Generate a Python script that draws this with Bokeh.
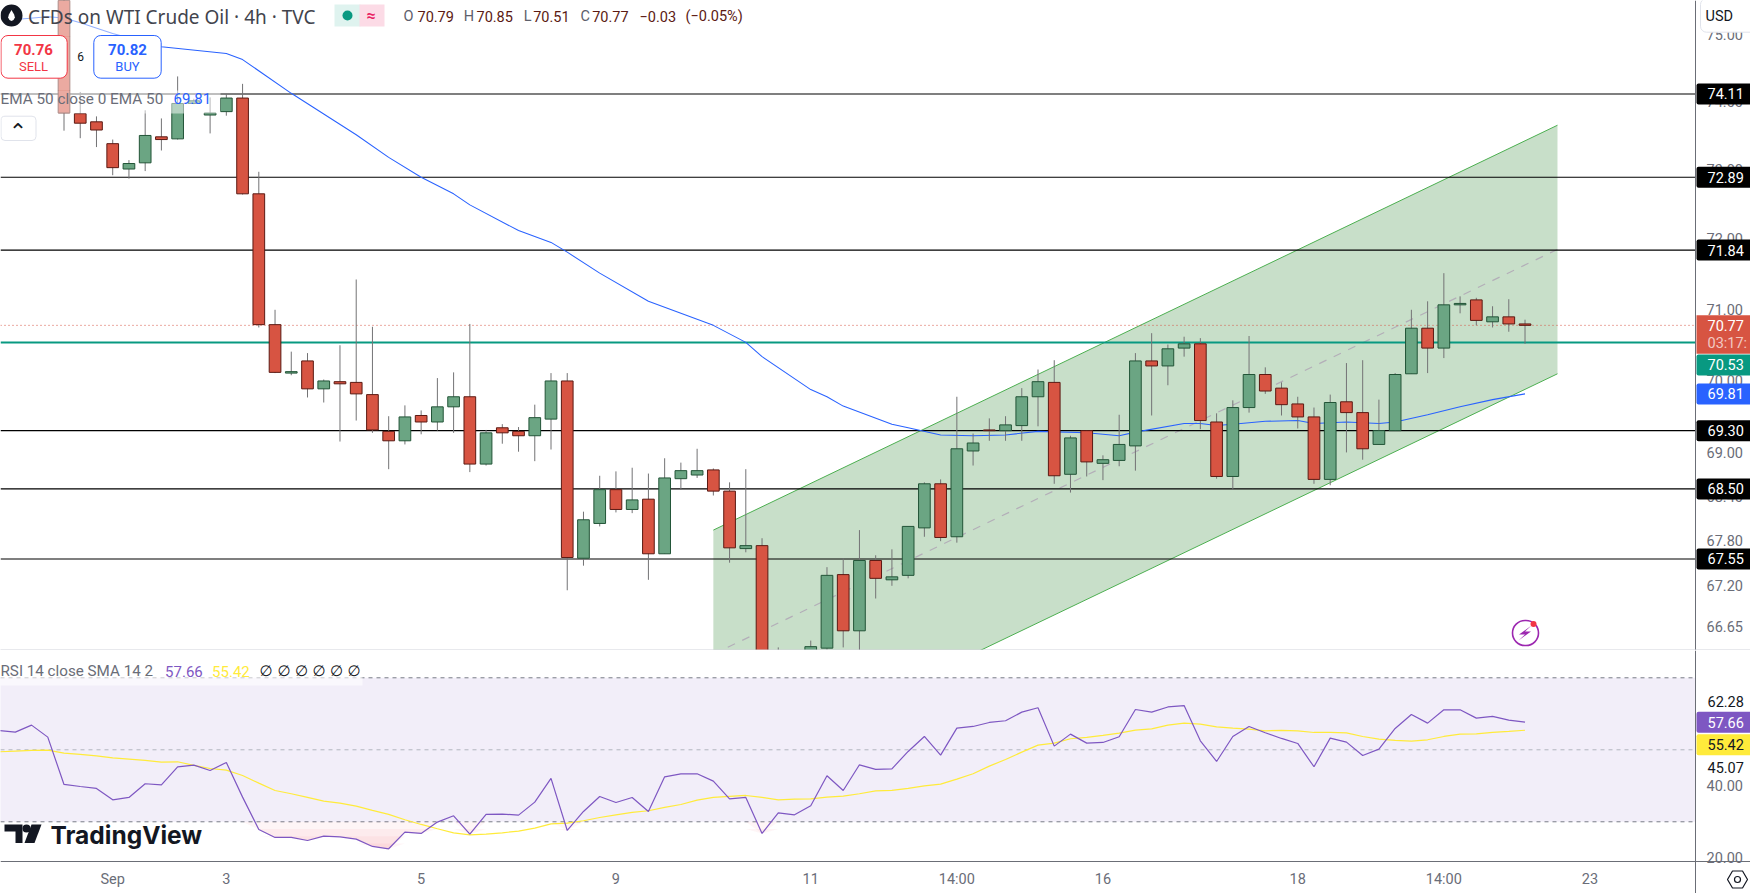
import numpy as np
from bokeh.embed import file_html
from bokeh.layouts import column
from bokeh.models import (BoxAnnotation, ColumnDataSource, FixedTicker, Label,
                          NumeralTickFormatter, PolyAnnotation, Range1d, Span)
from bokeh.plotting import figure
from bokeh.resources import INLINE

# 4h candles
opens = [76.10,73.82,73.70,73.38,73.01,73.10,73.48,73.45,73.97,73.80,
         73.85,74.05,72.65,70.78,70.10,70.27,69.88,69.98,69.97,69.80,
         69.29,69.16,69.51,69.42,69.63,69.77,68.84,69.34,69.29,69.23,
         69.46,69.99,67.56,68.03,68.49,68.22,68.36,67.62,68.64,68.69,
         68.76,68.47,67.69,67.73,65.30,65.60,65.90,66.36,67.34,66.59,
         67.53,67.27,67.33,67.97,68.57,67.85,69.02,69.31,69.30,69.37,
         69.77,69.97,68.70,69.30,68.85,68.89,69.09,70.27,70.20,70.45,
         70.51,69.42,68.67,69.62,70.08,69.89,69.67,69.49,68.63,69.70,
         69.55,69.11,69.30,70.09,70.73,70.45,71.06,71.13,70.82,70.89,
         70.79]
closes = [73.83,73.68,73.58,73.03,73.09,73.50,73.44,73.97,74.01,73.83,
          74.05,72.65,70.78,70.11,70.12,69.88,69.99,69.95,69.81,69.31,
          69.16,69.49,69.42,69.63,69.77,68.84,69.27,69.27,69.23,69.48,
          69.99,67.57,68.08,68.49,68.22,68.35,67.62,68.65,68.75,68.75,
          68.47,67.70,67.73,65.67,65.60,65.90,66.38,67.33,66.59,67.53,
          67.29,67.31,67.99,68.57,67.84,69.05,69.13,69.30,69.38,69.77,
          69.98,68.68,69.20,68.87,68.90,69.11,70.27,70.20,70.44,70.51,
          69.44,68.67,69.62,70.08,69.85,69.66,69.49,68.63,69.69,69.55,
          69.05,69.30,70.08,70.73,70.45,71.06,71.08,70.84,70.89,70.79,
          70.77]
highs = [76.30,74.14,73.78,73.44,73.14,73.87,73.75,74.37,74.04,74.06,
         74.11,74.26,72.97,70.99,70.40,70.38,70.01,70.49,71.42,70.75,
         69.50,69.65,69.58,70.03,70.11,70.79,69.31,69.39,69.35,69.66,
         70.10,70.10,68.19,68.68,68.74,68.79,68.71,68.92,68.86,69.05,
         68.78,68.59,68.77,67.83,66.37,66.20,66.46,67.44,67.56,67.94,
         67.60,67.68,67.99,68.59,68.63,69.77,69.26,69.47,69.50,69.89,
         70.15,70.28,69.23,69.30,68.96,69.52,70.38,70.66,70.50,70.61,
         70.59,69.54,69.72,70.62,70.18,69.97,69.77,69.62,69.80,70.24,
         70.28,69.73,70.10,70.99,71.11,71.51,71.18,71.16,71.04,71.14,
         70.85]
lows = [73.57,73.46,73.33,72.92,72.87,72.98,73.28,73.44,73.96,73.53,
        73.79,72.64,70.74,70.10,70.07,69.76,69.69,69.15,69.44,69.27,
        68.77,69.11,69.25,69.30,69.27,68.73,68.82,69.12,69.01,68.88,
        69.04,67.13,67.46,67.99,68.18,68.17,67.27,67.62,68.49,68.65,
        68.41,67.50,67.64,65.60,65.00,65.40,65.70,66.34,66.37,66.30,
        67.02,67.19,67.29,67.85,67.79,67.77,68.82,69.16,69.16,69.16,
        69.36,68.57,68.45,68.67,68.62,68.81,68.75,69.51,69.93,70.33,
        69.32,68.64,68.49,69.55,69.81,69.51,69.33,68.57,68.55,69.00,
        68.90,69.11,69.30,70.09,70.10,70.31,70.94,70.77,70.74,70.68,
        70.51]

ema_bars = [-3,-1,0,1,3,6,10,11,14,18,20,22,24,25,28,30,31,33,36,40,42,43,46,47,48,
            51,52,54,56,58,60,63,65,66,69,70,71,72,74,76,77,79,81,82,84,86,88,90]
ema_vals = [75.22,75.26,75.24,75.17,75.01,74.81,74.71,74.62,74.12,73.51,73.18,72.89,
            72.65,72.49,72.12,71.95,71.81,71.51,71.11,70.77,70.53,70.33,69.87,69.77,
            69.64,69.39,69.34,69.24,69.23,69.24,69.29,69.27,69.23,69.28,69.40,69.40,
            69.37,69.39,69.43,69.44,69.40,69.42,69.40,69.42,69.52,69.63,69.73,69.81]

channel_bars = [40, 92]
channel_top = [67.94, 73.65]
channel_mid = [66.28, 71.85]
channel_bottom = [64.66, 70.09]

levels = [74.11, 72.89, 71.84, 69.30, 68.50, 67.55]
level_labels = ["74.11", "72.89", "71.84", "69.30", "68.50", "67.55"]
last_close = 70.77
green_level = 70.53
ema_last = 69.81

price_ticks = [75, 74, 73, 72, 71, 70, 69, 68.4, 67.8, 67.2, 66.65]

rsi_vals = [55.37,54.91,56.85,53.52,40.37,39.81,39.26,36.11,36.76,40.56,40.28,45.28,45.74,
            44.26,46.48,36.85,27.87,25.65,25.65,24.81,26.02,25.83,25.19,23.15,22.50,27.13,
            26.76,29.91,31.67,26.57,32.04,32.13,31.85,35.46,42.04,27.59,32.87,37.04,35.37,
            36.76,32.87,42.50,43.33,43.33,41.30,36.39,36.76,26.76,32.50,31.94,34.44,42.78,
            38.70,45.83,44.54,44.72,49.54,53.70,48.52,56.02,56.48,57.59,58.06,60.46,61.67,
            51.02,54.35,51.85,52.04,53.61,61.20,60.46,61.90,62.28,52.50,46.76,53.70,56.48,
            54.72,53.15,51.76,45.28,53.24,52.13,48.43,50.19,55.93,59.81,57.41,61.11,61.11,
            58.80,59.26,58.24,57.66]
sma_vals = [49.44,49.63,49.81,49.91,49.07,48.70,48.33,47.78,47.41,47.04,46.57,46.67,45.65,
            44.81,44.35,42.87,40.74,38.70,37.78,36.76,35.74,35.19,34.35,33.15,32.04,30.56,
            29.26,28.06,26.94,26.39,26.57,26.94,27.41,28.24,29.44,29.63,30.28,31.20,31.94,
            32.59,33.06,33.98,34.81,36.02,36.76,37.04,37.31,36.76,36.11,36.30,36.39,36.85,
            37.13,37.78,38.61,38.70,39.26,40.00,40.46,41.85,43.33,45.46,47.31,49.35,51.30,
            51.85,53.06,53.43,53.98,54.63,55.46,55.83,56.85,57.41,57.13,56.39,56.02,55.74,
            55.28,55.37,55.28,54.81,54.81,54.72,53.70,52.96,52.59,52.41,52.78,53.70,54.35,
            54.44,54.81,55.09,55.42]
rsi_bars = list(range(-4, 91))

rsi_bands = [70, 50, 30]
rsi_ticks = [40, 20]
date_ticks = [3, 10, 22, 34, 46, 55, 64, 76, 85, 94]
date_labels = ["Sep", "3", "5", "9", "11", "14:00", "16", "18", "14:00", "23"]

UP, DOWN = "#6ba583", "#d75442"
UP_EDGE, DOWN_EDGE = "#225437", "#5b1a13"
WICK = "#737375"
GRAY = "#6a6d78"
AXIS = "#6b6e76"
FONT = "Roboto"
SCALE_BAR = 100.505  # bar position of the price scale line
PRICE_TOP, PRICE_BOTTOM = 75.504, 66.329
RSI_TOP, RSI_BOTTOM = 77.58, 10.08
MAIN_H, RSI_H = 650, 243

x_range = Range1d(-3.912, 103.89)

# the frames fill the whole canvas, the axes are pinned inside them
main = figure(width=1750, height=MAIN_H, x_range=x_range, y_range=Range1d(PRICE_BOTTOM, PRICE_TOP),
              y_axis_type="log", y_axis_location="right", x_axis_location=None,
              output_backend="svg", toolbar_location=None, tools="", min_border=0,
              outline_line_color=None, background_fill_color="white")
main.grid.visible = False
main.yaxis.ticker = FixedTicker(ticks=price_ticks)
main.yaxis.formatter = NumeralTickFormatter(format="0.00")
main.yaxis.fixed_location = SCALE_BAR

rsi = figure(width=1750, height=RSI_H, x_range=x_range, y_range=Range1d(RSI_BOTTOM, RSI_TOP),
             y_axis_location="right", output_backend="svg", toolbar_location=None, tools="",
             min_border=0, outline_line_color=None, background_fill_color="white")
rsi.grid.visible = False
rsi.yaxis.ticker = FixedTicker(ticks=rsi_ticks)
rsi.yaxis.formatter = NumeralTickFormatter(format="0.00")
rsi.yaxis.fixed_location = SCALE_BAR
rsi.xaxis.fixed_location = 19.06
rsi.xaxis.ticker = FixedTicker(ticks=date_ticks)
rsi.xaxis.major_label_overrides = dict(zip(date_ticks, date_labels))
rsi.xaxis.major_label_text_font = FONT
rsi.xaxis.major_label_text_font_size = "14.5px"
rsi.xaxis.major_label_text_color = GRAY
rsi.xaxis.major_label_standoff = 4
rsi.xaxis.major_tick_line_color = None
rsi.xaxis.minor_tick_line_color = None
rsi.xaxis.axis_line_color = AXIS

for ax in (main.yaxis, rsi.yaxis):
    ax.major_label_text_font = FONT
    ax.major_label_text_font_size = "14.5px"
    ax.major_label_text_color = GRAY
    ax.major_label_standoff = 5
    ax.major_tick_line_color = None
    ax.minor_tick_line_color = None
    ax.axis_line_color = AXIS


def price_y(v):
    return MAIN_H * np.log(PRICE_TOP / v) / np.log(PRICE_TOP / PRICE_BOTTOM)


def rsi_y(v):
    return RSI_H * (RSI_TOP - v) / (RSI_TOP - RSI_BOTTOM)


def text(fig, x, y, s, color=GRAY, size="14.5px", align="left", style="normal", font=FONT):
    fig.add_layout(Label(x=x, y=y, x_units="canvas", y_units="canvas", text=s, text_color=color,
                         text_font=font, text_font_size=size, text_font_style=style,
                         text_align=align, text_baseline="middle"))


def box(fig, left, right, top, bottom, fill="white", alpha=1.0, line=None, radius=0, width=1, level="annotation"):
    fig.add_layout(BoxAnnotation(left=left, right=right, top=top, bottom=bottom,
                                 left_units="canvas", right_units="canvas",
                                 top_units="canvas", bottom_units="canvas",
                                 fill_color=fill, fill_alpha=alpha, line_color=line, line_alpha=1,
                                 line_width=width, border_radius=radius, level=level))


def poly(fig, xs, ys, fill, line=None, alpha=1.0, width=1):
    fig.add_layout(PolyAnnotation(xs=xs, ys=ys, xs_units="canvas", ys_units="canvas", fill_color=fill,
                                  fill_alpha=alpha, line_color=line, line_alpha=1, line_width=width))


def tag(fig, cy, s, fill, color="white"):
    box(fig, 1696, 1760, cy - 10.5, cy + 10.5, fill=fill, radius=2)
    text(fig, 1707, cy, s, color=color)


# channel, levels and EMA sit under the candles
main.varea(x=channel_bars, y1=channel_bottom, y2=channel_top, fill_color="#c8dfc9", level="image")
main.line(channel_bars, channel_top, line_color="#4caf50", line_width=1, level="image")
main.line(channel_bars, channel_bottom, line_color="#4caf50", line_width=1, level="image")
main.line(channel_bars, channel_mid, line_color="#b3aeb8", line_width=1.2, line_dash=[8, 8], level="image")

for lvl in levels:
    main.add_layout(Span(location=lvl, dimension="width", line_color="black", line_width=1.2, level="underlay"))
main.add_layout(Span(location=green_level, dimension="width", line_color="#089981", line_width=2, level="underlay"))
main.add_layout(Span(location=last_close, dimension="width", line_color=DOWN, line_width=1,
                     line_dash=[1, 3], level="underlay"))
box(main, 1695, 1760, -2, 660, level="glyph")

main.line(ema_bars, ema_vals, line_color="#2962ff", line_width=1.05)

bars = np.arange(len(opens))
o, h, l, c = map(np.array, (opens, highs, lows, closes))
is_up = c >= o
src = ColumnDataSource(dict(x=bars, o=o, h=h, l=l, c=c))
main.segment("x", "h", "x", "l", source=src, line_color=WICK, line_width=1)
main.vbar(x=bars[is_up], bottom=o[is_up], top=c[is_up], width=0.72, fill_color=UP, line_color=UP_EDGE, line_width=1)
main.vbar(x=bars[~is_up], bottom=c[~is_up], top=o[~is_up], width=0.72, fill_color=DOWN, line_color=DOWN_EDGE, line_width=1)

# legend panes wash out what is behind them
box(main, -2, 318, -2, 36, alpha=0.5)
box(main, -2, 161, 36, 90, alpha=0.5)
box(main, -2, 220, 90, 113, alpha=0.5)

# title row
box(main, 0, 22, 4, 26, fill="#131722", radius=11)
poly(main, [11, 13.6, 14.4, 13, 11, 9, 7.6, 8.4], [9.5, 14, 17, 19.5, 20.5, 19.5, 17, 14], "white")
text(main, 27.5, 16, "CFDs on WTI Crude Oil · 4h · TVC", color="#42444d", size="19px", font="Noto Sans")
box(main, 334, 360, 4, 26, fill="#dff3ef", radius=0)
box(main, 359, 384, 4, 26, fill="#fcdbe6", radius=0)
box(main, 342, 352, 10, 20, fill="#089981", radius=5)
text(main, 370.5, 15, "≈", color="#e91e63", size="16px", align="center", style="bold")
for lx, vx, letter, val in [(403, 417, "O", "70.79"), (463.3, 476, "H", "70.85"),
                            (523.3, 532.7, "L", "70.51"), (580, 591.7, "C", "70.77")]:
    text(main, lx, 15.5, letter, color="#5d606b")
    text(main, vx, 15.5, val, color="#5b1a13")
text(main, 639, 15.5, "−0.03", color="#5b1a13")
text(main, 685, 15.5, "(−0.05%)", color="#5b1a13")

# sell / buy
box(main, 0.5, 66.7, 35, 77.7, line="#f23645", radius=7)
text(main, 33, 48.5, "70.76", color="#f23645", size="15px", align="center", style="bold")
text(main, 33, 66, "SELL", color="#f23645", size="13px", align="center")
text(main, 80, 56, "6", color="#131722", size="12px", align="center")
box(main, 93.3, 160.7, 35, 77.7, line="#2962ff", radius=7)
text(main, 127, 48.5, "70.82", color="#2962ff", size="15px", align="center", style="bold")
text(main, 127, 66, "BUY", color="#2962ff", size="13px", align="center")

text(main, 0, 98, "EMA 50 close 0 EMA 50", size="15.3px")
text(main, 173, 98, "69.81", color="#2962ff", size="15px")
box(main, 0.5, 35.5, 115.7, 140, line="#e0e3eb", radius=4)
text(main, 17.5, 131, "⌃", color="#131722", size="22px", align="center", font="DejaVu Sans")

# lightning badge
box(main, 1512, 1538, 620, 645, fill=None, alpha=0, line="#9c27b0", radius=13, width=1.6)
poly(main, [1531, 1518.5, 1524.5, 1518, 1530.5, 1524.5], [625, 634, 634, 640, 631, 631], "#9c27b0")
box(main, 1530, 1536, 620.5, 626.5, fill="#f23645", radius=3)

# price scale tags
for lvl, lab in zip(levels, level_labels):
    tag(main, price_y(lvl), lab, "black")
close_y = price_y(last_close)
box(main, 1696, 1760, close_y - 10, close_y + 28.3, fill=DOWN)
text(main, 1707, close_y, "70.77", color="white")
text(main, 1707, close_y + 18.5, "03:17:", color="#f2c9c2")
tag(main, price_y(green_level) + 22.5, "70.53", "#089981")
tag(main, price_y(ema_last), "69.81", "#2962ff")

box(main, 1700, 1760, -2, 31.7, line="#e0e3eb", radius=6)
text(main, 1705, 16, "USD", color="#131722", size="14.5px")
box(main, -2, 1760, 649, 650, fill="#d1d4dc")

# RSI pane
rsi.varea(x=[-4, SCALE_BAR], y1=[30, 30], y2=[70, 70], fill_color="#7e57c2", fill_alpha=0.1, level="image")
for band, col in zip(rsi_bands, ("#787b86", "#b2b5be", "#787b86")):
    rsi.add_layout(Span(location=band, dimension="width", line_color=col, line_width=1,
                        line_dash=[4, 4], level="underlay"))
box(rsi, 1695, 1760, -2, 210, level="glyph")

rsi_arr = np.array(rsi_vals)
for t in (30, 28, 26, 24):
    rsi.varea(x=rsi_bars, y1=np.minimum(rsi_arr, t), y2=t, fill_color="#f23645", fill_alpha=0.05)
rsi.line(rsi_bars, sma_vals, line_color="#ffeb3b", line_width=1.2)
rsi.line(rsi_bars, rsi_vals, line_color="#7e57c2", line_width=1.2)

box(rsi, -2, 362, -2, 35, alpha=0.6)
text(rsi, 0, 20.5, "RSI 14 close SMA 14 2", size="15.2px")
text(rsi, 164.6, 20.5, "57.66", color="#7e57c2", size="15px")
text(rsi, 211.6, 20.5, "55.42", color="#ffeb3b", size="15px")
for x in (259, 277, 294.5, 312, 329.5, 347):
    text(rsi, x, 20.5, "∅", color="#131722", size="15px", font="DejaVu Sans")

# watermark
poly(rsi, [4, 22, 22, 15, 15, 4], [174, 174, 192.5, 192.5, 181, 181], "#131722")
poly(rsi, [31, 41, 34, 24], [174, 174, 192.5, 192.5], "#131722")
box(rsi, 22, 30, 174, 182, fill="#131722", radius=4)
text(rsi, 50, 184, "TradingView", color="#131722", size="24.5px", style="bold", font="Inter")

tag(rsi, rsi_y(57.66), "57.66", "#7e57c2")
tag(rsi, rsi_y(55.42) + 14.5, "55.42", "#ffeb3b", color="#131722")
text(rsi, 1707, 51, "62.28", color="#131722")
text(rsi, 1707, 117, "45.07", color="#131722")

poly(rsi, [1727, 1732, 1742, 1747, 1742, 1732], [229, 220.5, 220.5, 229, 237.5, 237.5],
     None, line="#131722", alpha=0, width=1.2)
box(rsi, 1734, 1740, 226, 232, fill=None, alpha=0, line="#131722", radius=3, width=1.2)

p = column(main, rsi, spacing=0)
open("out.html", "w").write(file_html(p, INLINE))
